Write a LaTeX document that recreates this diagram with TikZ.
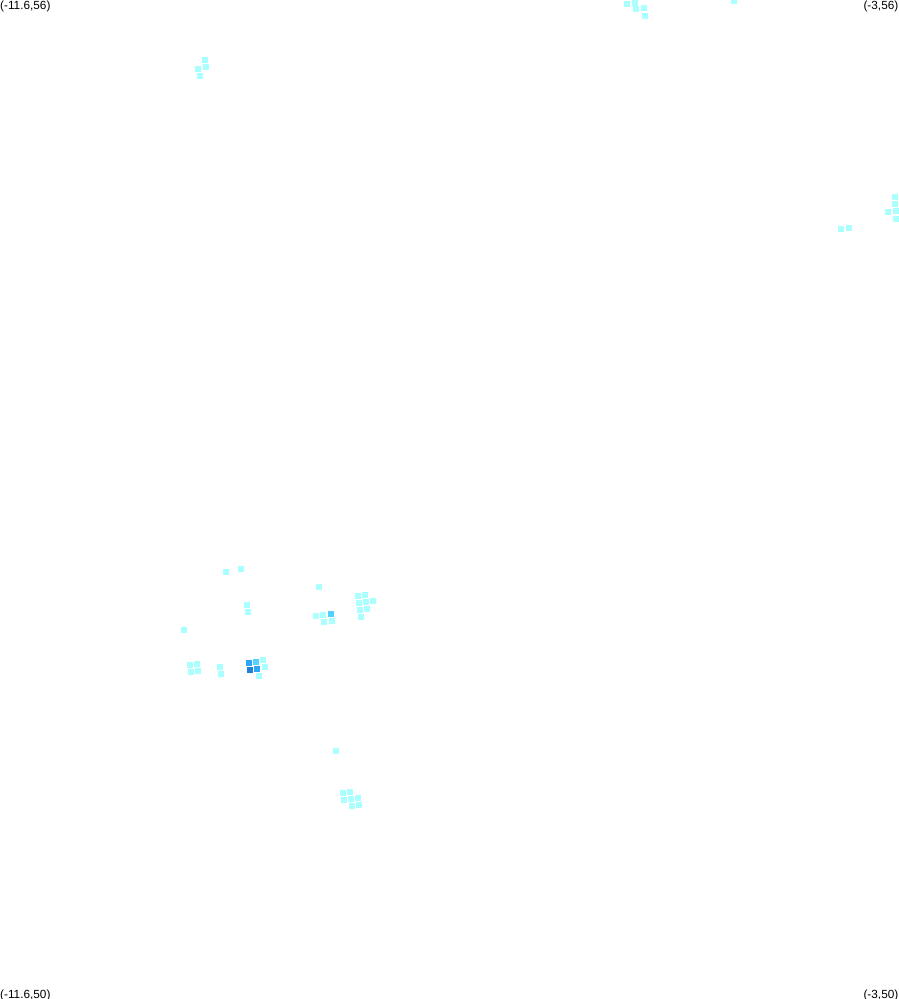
\documentclass[tikz,border=0pt]{standalone}
\usepackage{fontspec}
\setmainfont{Liberation Sans}
\definecolor{levelone}{HTML}{AAFFFF}
\definecolor{leveltwo}{HTML}{55D0FF}
\definecolor{levelthree}{HTML}{2FA5F5}
\definecolor{levelfour}{HTML}{1E7FDC}
\tikzset{
  cornerlabel/.style={inner sep=0pt, font=\fontsize{11.8}{12}\selectfont, text=black},
}
\begin{document}
\begin{tikzpicture}[x=1pt, y=-1pt]
\clip (0,0) rectangle (899,999);
\useasboundingbox (0,0) rectangle (899,999);
\foreach \x/\y in {627/3.5,635/2.5,636/9,644/8,645/16,734/1,
  205/60,206/67,198/69,200/76,
  895/197,895/204,888/212,896/211,896/219,841/229,849/228,
  226/572,241/569,319/587,247/605,248/612,184/630,
  316/616,323/615,324/622,332/621,
  358/596,365/595,373/601,359/603,366/602,360/610,367/609,361/617,
  190/665,197/664,191/672,198/671,220/667,221/674,
  263/660,265/667,259/676,
  336/751,343/793,350/792,344/800,351/799,358/798,352/806,359/805}
  \fill[levelone] (\x-3,\y-3) rectangle (\x+3,\y+3);
\foreach \x/\y in {331/614,256/662} \fill[leveltwo] (\x-3,\y-3) rectangle (\x+3,\y+3);
\foreach \x/\y in {249/663,257/669} \fill[levelthree] (\x-3,\y-3) rectangle (\x+3,\y+3);
\fill[levelfour] (247,667) rectangle (253,673);
\path
(0,0.6) node[cornerlabel, anchor=north west] (topleft) {(-11.6,56)};
\path
(898.5,0.6) node[cornerlabel, anchor=north east] (topright) {(-3,56)};
\path
(0,989.6) node[cornerlabel, anchor=north west] (bottomleft) {(-11.6,50)};
\path
(898.5,989.6) node[cornerlabel, anchor=north east] (bottomright) {(-3,50)};
\end{tikzpicture}
\end{document}
